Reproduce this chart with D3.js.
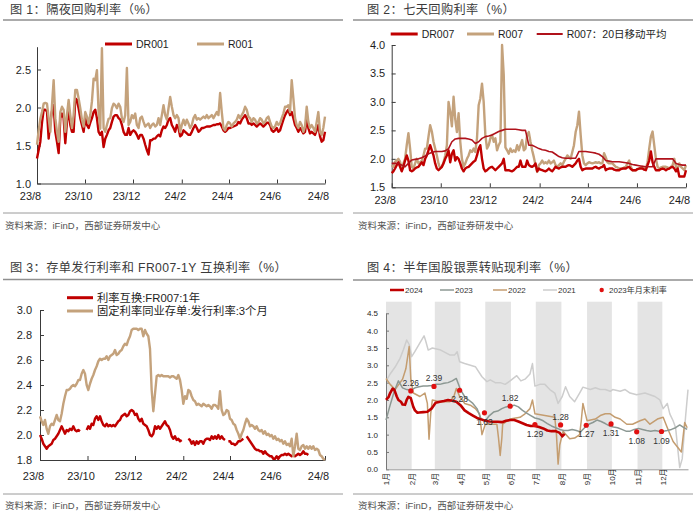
<!DOCTYPE html>
<html><head><meta charset="utf-8">
<script src="https://cdn.jsdelivr.net/npm/d3@7"></script>
<style>body{margin:0;background:#fff}svg{display:block}</style>
</head><body><svg id="c" width="700" height="514"></svg>
<script>
// ---------------- DATA ----------------
const spanStart = "2023-08-01", spanEnd = "2024-08-01";
const xTickDates = ["2023-08-01","2023-10-01","2023-12-01","2024-02-01","2024-04-01","2024-06-01","2024-08-01"];
const xTickLabels = ["23/8","23/10","23/12","24/2","24/4","24/6","24/8"];
const sourceText = "资料来源：iFinD，西部证券研发中心";

// Panel 1 (evenly spaced observations over the span)
const dr001 = [1.33,1.44,1.55,1.80,1.97,1.97,1.95,1.59,1.81,1.95,2.03,1.68,1.55,1.40,1.86,1.92,1.86,1.53,1.81,1.97,1.77,1.68,1.68,2.12,2.10,1.99,1.86,1.77,1.68,1.86,1.77,1.73,1.80,1.86,1.94,1.97,1.86,1.68,1.64,1.68,1.48,1.59,1.64,1.70,1.73,1.81,1.88,1.90,1.90,1.86,1.84,1.77,1.68,1.64,1.64,1.73,1.64,1.68,1.70,1.68,1.64,1.59,1.64,1.64,1.59,1.51,1.44,1.38,1.57,1.57,1.59,1.59,1.62,1.64,1.62,1.70,1.75,1.73,1.77,1.84,1.86,1.77,1.73,1.68,1.77,1.73,1.62,1.64,1.70,1.68,1.66,1.64,1.64,1.68,1.73,1.77,1.73,1.68,1.70,1.73,1.73,1.74,1.75,1.75,1.75,1.76,1.77,1.77,1.78,1.78,1.79,1.75,1.70,1.68,1.70,1.73,1.73,1.74,1.75,1.76,1.77,1.81,1.79,1.84,1.87,1.90,1.86,1.79,1.79,1.77,1.79,1.77,1.75,1.77,1.79,1.77,1.75,1.77,1.80,1.80,1.77,1.70,1.68,1.70,1.73,1.68,1.70,1.77,1.84,1.90,1.94,1.97,1.90,1.94,1.86,1.77,1.73,1.68,1.73,1.70,1.66,1.68,1.86,1.73,1.66,1.68,1.66,1.64,1.70,1.77,1.62,1.55,1.57,1.68];
const r001 = [1.51,1.70,1.85,1.94,2.05,2.06,2.05,1.86,1.68,2.03,2.36,1.86,1.68,1.55,1.94,2.01,1.97,1.68,1.90,2.10,1.90,1.73,1.90,2.23,2.23,2.12,1.99,1.84,1.75,1.94,1.88,1.79,1.90,2.08,2.38,2.36,2.49,1.94,1.72,2.78,1.73,1.68,1.77,1.85,1.86,1.99,2.05,2.03,1.99,2.05,2.01,1.86,1.81,1.90,2.52,1.77,1.81,1.90,1.86,1.92,1.77,1.73,1.86,1.88,1.81,1.75,1.77,1.79,1.73,1.77,1.79,1.75,1.77,1.86,1.77,1.90,2.03,1.90,1.84,1.99,2.14,2.01,1.90,1.86,1.90,1.86,1.68,1.77,1.84,1.77,1.84,1.79,1.73,1.77,1.86,1.90,1.84,1.86,1.84,1.86,1.88,1.86,1.90,1.86,1.88,1.90,1.86,1.90,1.94,1.90,2.19,1.94,1.73,1.70,1.77,1.81,1.79,1.75,1.79,1.81,1.84,1.90,1.86,1.90,1.94,2.01,1.97,1.88,1.86,1.81,1.86,1.84,1.79,1.81,1.86,1.84,1.79,1.81,1.86,1.88,1.81,1.75,1.73,1.75,1.81,1.77,1.79,1.86,1.92,2.01,2.01,2.03,1.94,2.36,2.12,1.86,1.77,1.73,1.81,1.77,1.68,1.75,2.01,1.81,1.73,1.77,1.73,1.68,1.81,1.94,1.68,1.64,1.73,1.88];

// Panel 2
const dr007 = [1.75,1.78,1.83,1.89,1.94,1.86,1.78,1.86,1.97,2.06,1.97,1.8,1.78,1.8,1.83,1.85,1.86,1.9,1.94,1.89,2.0,2.06,2.15,2.24,2.15,2.06,1.92,1.83,1.8,1.83,1.86,1.92,2.0,2.06,2.15,1.94,2.09,2.15,1.97,2.03,2.0,1.92,1.83,1.78,1.83,1.85,1.86,1.89,1.92,1.95,1.97,2.06,2.18,2.24,2.0,1.83,1.78,1.8,1.83,1.85,1.86,1.83,1.8,1.83,1.86,1.89,1.92,2.0,1.8,1.8,1.8,1.79,1.78,1.8,1.83,1.86,1.86,1.97,1.86,1.86,1.86,1.97,1.89,1.87,1.86,1.88,1.92,1.78,1.83,1.81,1.8,1.79,1.78,1.8,1.83,1.8,1.78,1.82,1.86,1.84,1.83,1.85,1.86,1.86,1.86,1.88,1.89,1.88,1.86,1.89,1.92,1.97,2.0,1.86,1.8,1.82,1.83,1.83,1.83,1.83,1.83,1.85,1.86,1.84,1.83,1.85,1.86,1.89,1.8,1.82,1.83,1.83,1.83,1.81,1.8,1.8,1.8,1.82,1.83,1.83,1.83,1.85,1.86,1.82,1.8,1.8,1.8,1.82,1.83,1.83,1.83,1.81,1.8,1.89,1.97,2.13,1.94,1.86,1.8,1.8,1.8,1.82,1.83,1.82,1.8,1.82,1.83,1.85,1.86,1.83,1.78,1.83,1.69,1.69,1.69,1.69,1.8];
const r007 = [1.89,1.86,1.95,1.97,2.0,1.95,1.83,1.92,2.0,2.24,2.45,2.18,1.86,1.83,1.92,2.0,1.92,1.94,1.97,2.06,2.18,2.18,2.39,2.59,2.48,2.3,2.18,2.06,1.92,1.83,1.86,1.94,2.06,2.24,3.0,2.83,2.57,3.09,2.7,2.47,2.8,2.3,2.0,1.86,1.92,2.0,2.06,2.15,2.12,2.18,2.12,2.36,2.94,3.06,3.32,3.0,2.42,2.18,2.24,2.36,2.42,2.3,2.36,2.15,2.24,2.3,4.0,3.47,2.2,2.15,2.09,2.18,2.12,2.15,2.12,2.24,2.15,2.24,2.33,2.15,2.18,2.42,2.47,2.3,2.15,2.03,1.89,1.77,1.89,1.92,1.97,1.92,1.94,1.92,1.97,1.92,1.94,1.97,1.89,1.86,1.89,1.92,1.89,1.95,2.0,2.06,2.03,2.0,2.12,2.24,2.47,2.59,2.83,2.42,2.06,1.92,1.89,1.92,1.94,1.93,1.92,1.93,1.94,1.93,1.94,1.92,1.92,2.1,2.03,1.94,1.92,1.92,1.92,1.89,1.86,1.85,1.83,1.83,1.83,1.85,1.86,1.92,1.97,1.86,1.8,1.8,1.8,1.82,1.83,1.85,1.86,1.85,1.83,1.94,2.18,2.39,2.48,2.24,2.0,1.86,1.83,1.85,1.86,1.86,1.86,1.85,1.83,1.86,1.89,2.0,1.86,1.83,1.92,1.86,1.83,1.8,1.89];
const r007ma20 = [1.92,1.92,1.92,1.89,1.86,1.92,1.98,1.99,2.0,2.02,2.05,2.09,2.11,2.13,2.13,2.13,2.14,2.18,2.3,2.35,2.36,2.36,2.36,2.35,2.33,2.27,2.3,2.36,2.39,2.4,2.42,2.45,2.48,2.5,2.52,2.52,2.52,2.52,2.51,2.5,2.5,2.24,2.24,2.21,2.18,2.16,2.15,2.13,2.12,2.08,2.04,2.02,2.01,2.01,2.01,2.01,2.13,2.13,2.13,2.12,2.11,2.1,2.08,2.04,1.97,1.96,1.95,1.95,1.95,1.94,1.93,1.92,1.9,1.89,1.88,1.87,1.86,1.86,1.86,2.0,2.0,2.0,2.0,2.0,2.0,1.92,1.9,1.89,1.89];

// Panel 3
const fr007Swap1y = [2.00,1.97,1.93,1.91,1.89,1.91,1.92,1.93,1.96,1.97,1.99,2.01,2.04,2.07,2.04,2.01,2.04,2.03,2.05,2.04,2.07,2.04,2.03,2.04,2.03,null,null,null,2.04,2.07,2.05,2.09,2.08,2.13,2.15,2.12,2.15,2.11,2.08,2.07,2.09,2.07,2.08,2.07,2.08,2.07,2.09,2.11,2.12,2.15,2.16,2.17,2.15,2.16,2.19,2.20,2.19,2.16,2.17,2.13,2.11,2.13,2.09,2.08,2.07,2.04,2.00,1.99,2.01,2.07,2.05,2.07,2.05,2.07,2.09,2.11,2.08,2.07,2.04,1.99,1.97,1.99,1.96,1.97,1.95,1.96,null,null,null,1.97,1.96,1.93,1.95,1.92,1.95,1.93,1.95,1.95,1.93,1.96,1.97,1.97,1.96,1.99,1.97,1.99,1.97,2.00,1.97,1.99,1.97,1.96,null,1.95,1.95,1.93,1.93,1.92,1.93,1.95,1.95,1.96,1.97,null,1.99,1.97,1.95,1.93,1.91,1.89,1.88,1.88,1.87,1.87,1.85,1.87,1.85,1.84,1.83,1.83,1.81,1.81,1.83,1.81,1.83,1.84,1.84,1.85,1.84,1.85,1.84,1.83,1.84,1.83,1.84,1.85,1.84,1.85,1.87,1.85,1.85,1.84,null,null,null,null,null,null,null,null,null,null];
const ncd3m = [2.15,2.11,2.08,2.12,2.05,2.01,2.07,2.09,2.08,2.12,2.16,2.12,2.11,2.17,2.25,2.31,2.36,2.36,2.37,2.39,2.40,2.39,2.41,2.44,2.44,2.49,2.52,2.49,2.40,2.36,2.41,2.45,2.48,2.52,2.55,2.59,2.61,2.60,2.61,2.61,2.63,2.60,2.63,2.64,2.65,2.68,2.64,2.65,2.67,2.68,2.71,2.73,2.72,2.76,2.79,2.84,2.85,2.85,2.85,2.84,2.85,2.85,2.79,2.84,2.81,2.79,2.69,2.36,2.19,2.33,2.47,2.48,2.47,2.48,2.47,2.47,2.47,2.47,2.46,2.47,2.47,2.46,2.45,2.48,2.44,2.36,2.25,2.31,2.29,2.36,2.35,2.31,2.28,2.27,2.24,2.25,2.24,2.23,2.25,2.24,2.23,2.24,2.23,2.21,2.24,2.24,2.23,2.21,2.35,2.20,2.16,2.17,2.20,2.19,2.13,2.12,2.09,2.08,2.04,2.01,1.97,2.01,2.04,2.09,2.13,2.11,2.07,2.08,2.07,2.05,2.07,2.04,2.03,2.04,2.01,2.03,2.00,2.01,1.99,2.00,1.97,1.99,1.96,1.97,1.95,1.96,1.93,1.95,1.92,1.93,1.91,1.97,1.83,1.91,2.01,1.89,1.88,1.91,1.92,1.89,1.91,1.89,1.91,1.89,1.91,1.88,1.89,1.88,1.84,1.83,1.81,1.80];

// Panel 4 (day of year, value)
const p4Months = ["1月","2月","3月","4月","5月","6月","7月","8月","9月","10月","11月","12月"];
const p4ShadedMonths = [1,3,5,7,9,11];
const days2024 = [0,3,5,8,10,13,15,18,20,23,25,27,30,33,35,38,40,45,50,55,60,65,70,75,80,85,90,95,100,105,110,115,120,125,130,135,140,145,150,155,160,165,170,175,180,185,190,195,200,205,210,213,216];
const vals2024 = [2.0,2.08,2.2,2.33,2.3,2.1,2.0,1.95,1.87,1.86,2.0,2.09,2.05,1.8,1.7,1.63,1.64,1.65,1.66,1.75,1.92,1.95,1.97,2.0,1.98,1.95,1.85,1.7,1.62,1.55,1.48,1.44,1.4,1.38,1.37,1.37,1.36,1.4,1.42,1.42,1.38,1.33,1.28,1.25,1.25,1.22,1.18,1.12,1.1,1.1,1.05,0.95,1.02];
const days2023 = d3.range(0, 365, 5).concat([364]);
const vals2023 = [1.42,1.85,2.25,2.55,2.35,2.3,2.28,2.35,2.38,2.4,2.4,2.42,2.45,2.45,2.48,2.5,2.55,2.62,2.3,2.1,2.0,1.9,1.75,1.45,1.4,1.55,1.65,1.68,1.75,1.8,1.82,1.85,1.8,1.7,1.62,1.55,1.48,1.45,1.4,1.32,1.25,1.2,1.15,1.12,1.12,1.15,1.12,1.08,1.2,1.3,1.35,1.42,1.38,1.32,1.25,1.22,1.2,1.15,1.1,1.1,1.15,1.18,1.15,1.12,1.1,1.12,1.1,1.1,1.12,1.15,1.2,1.28,1.2,1.15];
const days2022 = [0,5,11,17,20,24,28,30,33,41,47,50,52,54,56,65,77,82,85,89,95,102,108,113,116,120,126,134,136,138,140,141,150,162,168,174,177,180,192,204,206,208,210,214,222,228,234,236,238,241,243,253,259,265,271,277,283,291,298,307,313,319,328,335,340,347,357,361,364];
const vals2022 = [2.62,2.45,2.3,2.5,2.6,2.9,3.54,2.6,2.2,2.1,2.2,1.9,0.87,1.6,2.0,1.95,1.95,2.1,2.33,2.1,1.9,1.85,1.75,1.6,1.0,1.3,1.3,1.3,0.9,0.4,0.9,1.3,1.45,1.5,1.6,1.75,2.0,1.6,1.55,1.5,1.0,0.15,0.7,1.1,0.88,0.9,1.0,1.4,1.9,1.6,1.4,1.45,1.55,1.6,1.6,1.5,1.45,1.3,1.3,1.4,1.45,1.3,1.45,1.5,1.2,0.8,0.5,1.35,1.2];
const days2021 = [1,5,11,17,21,25,28,31,35,41,46,48,51,56,65,77,83,86,89,95,102,108,116,122,126,132,138,144,150,158,163,168,174,177,180,186,192,198,204,208,213,217,222,228,234,238,247,253,259,265,271,274,283,289,295,303,313,319,325,331,335,340,343,347,350,355,358,362,365];
const vals2021 = [2.58,2.75,2.95,3.2,3.45,3.73,3.6,3.25,3.4,3.65,3.85,3.7,3.44,3.5,3.45,3.3,3.3,3.39,3.1,3.05,3.0,2.96,2.67,2.53,2.58,2.5,2.5,2.45,2.55,2.7,2.55,2.6,2.75,3.05,2.4,2.45,2.45,2.3,2.2,1.9,2.1,2.38,2.1,1.95,2.2,2.37,2.3,2.35,2.3,2.3,2.25,2.3,2.25,2.3,2.2,2.15,2.2,2.15,2.1,2.0,1.75,1.9,1.6,1.4,1.2,0.05,0.3,1.5,2.3];
const monthEndMonths = [1,2,3,4,5,6,7,8,9,10,11];
const monthEndRates2023 = [2.26,2.39,2.28,1.63,1.82,1.29,1.28,1.27,1.31,1.08,1.09];
const monthEndLabelSide = ["up","up","down","down","up","down","up","down","down","down","down"];

// ---------------- DRAW ----------------
const FONT = '"Liberation Sans", Arial, "Noto Sans CJK SC", sans-serif';
const RED = "#c00000", TAN = "#c4a27c", DARKRED = "#b0121b";
const svg = d3.select("#c").attr("font-family", FONT);
const parse = d3.timeParse("%Y-%m-%d");

function frame(o) {
  svg.append("text").attr("x", o.tx).attr("y", o.ty).attr("font-size", 12.2).attr("fill", "#3a3a3a")
    .attr("letter-spacing", 0.4).text(o.title);
  svg.append("line").attr("x1", o.x0).attr("x2", o.x1).attr("y1", o.rTop).attr("y2", o.rTop)
    .attr("stroke", "#8f8f8f").attr("stroke-width", 1.6);
  svg.append("line").attr("x1", o.x0).attr("x2", o.x1).attr("y1", o.rBot).attr("y2", o.rBot)
    .attr("stroke", "#9a9a9a").attr("stroke-width", 1);
  svg.append("text").attr("x", o.sx).attr("y", o.sy).attr("font-size", 9.5).attr("fill", "#555").text(sourceText);
}

function styleAxis(sel, size) {
  sel.attr("font-family", FONT).attr("font-size", size);
  sel.select(".domain").attr("stroke", "#3a3a3a");
  sel.selectAll(".tick line").attr("stroke", "#3a3a3a");
  sel.selectAll(".tick text").attr("fill", "#1e1e1e");
}

function timePanel(o) {
  const x = d3.scaleTime().domain([parse(spanStart), parse(spanEnd)]).range([o.x0, o.x1]);
  const y = d3.scaleLinear().domain(o.yDomain).range([o.yBot, o.yTop]);
  const g = svg.append("g");
  const xa = g.append("g").attr("transform", `translate(0,${o.yBot})`)
    .call(d3.axisBottom(x).tickValues(xTickDates.map(parse)).tickFormat((d, i) => xTickLabels[i])
      .tickSizeInner(-4).tickSizeOuter(0).tickPadding(o.xPad));
  styleAxis(xa, 11);
  xa.selectAll(".tick text").attr("dx", -7);
  const ya = g.append("g").attr("transform", `translate(${o.x0},0)`)
    .call(d3.axisLeft(y).tickValues(o.yTicks).tickFormat(d3.format(".1f"))
      .tickSizeInner(-4).tickSizeOuter(0).tickPadding(o.yPad));
  styleAxis(ya, 11);
  const t0 = +parse(spanStart), t1 = +parse(spanEnd);
  o.series.forEach(s => {
    const n = s.values.length;
    const pts = s.values.map((v, i) => [new Date(t0 + (t1 - t0) * i / (n - 1)), v]);
    const line = d3.line().defined(d => d[1] != null).x(d => x(d[0])).y(d => y(d[1]));
    g.append("path").datum(pts).attr("d", line).attr("fill", "none").attr("stroke", s.color)
      .attr("stroke-width", s.width).attr("stroke-linejoin", "round");
  });
  o.legend.forEach(l => {
    g.append("line").attr("x1", l.x).attr("x2", l.x + l.len).attr("y1", l.y).attr("y2", l.y)
      .attr("stroke", l.color).attr("stroke-width", l.w);
    g.append("text").attr("x", l.x + l.len + 4).attr("y", l.y + 4).attr("font-size", l.fs || 10.5)
      .attr("fill", "#1e1e1e").text(l.label);
  });
}

// Panel 1
frame({title: "图 1：隔夜回购利率（%）", tx: 10, ty: 14, x0: 3, x1: 343, rTop: 20, rBot: 213, sx: 5, sy: 229});
timePanel({x0: 37, x1: 325, yTop: 46.7, yBot: 183.5, yDomain: [1.0, 2.8], yTicks: [1.0, 1.5, 2.0, 2.5],
  xPad: 9, yPad: 6,
  series: [{values: dr001, color: RED, width: 2.4}, {values: r001, color: TAN, width: 2.4}],
  legend: [{x: 105, y: 44, len: 27, color: RED, w: 3, label: "DR001"},
           {x: 197, y: 44, len: 27, color: TAN, w: 3, label: "R001"}]});

// Panel 2
frame({title: "图 2：七天回购利率（%）", tx: 367, ty: 14, x0: 353, x1: 693, rTop: 20, rBot: 213, sx: 358, sy: 229});
timePanel({x0: 391.7, x1: 686, yTop: 45, yBot: 187.3, yDomain: [1.5, 4.0], yTicks: [1.5, 2.0, 2.5, 3.0, 3.5, 4.0],
  xPad: 9, yPad: 6.5,
  series: [{values: r007, color: TAN, width: 2.4}, {values: dr007, color: RED, width: 2.4},
           {values: r007ma20, color: DARKRED, width: 1.6}],
  legend: [{x: 390.7, y: 34, len: 27, color: RED, w: 3, label: "DR007"},
           {x: 467, y: 34, len: 27, color: TAN, w: 3, label: "R007"},
           {x: 536.7, y: 34, len: 26, color: DARKRED, w: 2, label: "R007：20日移动平均"}]});

// Panel 3
frame({title: "图 3：存单发行利率和 FR007-1Y 互换利率（%）", tx: 10, ty: 272, x0: 3, x1: 343, rTop: 279.5, rBot: 494, sx: 5, sy: 509});
timePanel({x0: 40, x1: 325, yTop: 310, yBot: 460, yDomain: [1.8, 3.0], yTicks: [1.8, 2.0, 2.2, 2.4, 2.6, 2.8, 3.0],
  xPad: 12, yPad: 8,
  series: [{values: fr007Swap1y, color: RED, width: 2.4}, {values: ncd3m, color: TAN, width: 2.4}],
  legend: [{x: 67, y: 297.7, len: 26, color: RED, w: 3, label: "利率互换:FR007:1年", fs: 11.3},
           {x: 67, y: 311, len: 26, color: TAN, w: 3, label: "固定利率同业存单:发行利率:3个月", fs: 11.3}]});

// Panel 4
frame({title: "图 4：半年国股银票转贴现利率（%）", tx: 367, ty: 272, x0: 353, x1: 693, rTop: 280, rBot: 494, sx: 358, sy: 509});
(function () {
  const yearStart = new Date(2023, 0, 1);
  const doy = d => d3.timeDay.count(yearStart, d);
  const x = d3.scaleLinear().domain([0, 365]).range([386, 688]);
  const y = d3.scaleLinear().domain([0, 4.5]).range([469.3, 313.3]);
  const g = svg.append("g");
  // shaded months
  p4ShadedMonths.forEach(m => {
    const a = doy(new Date(2023, m - 1, 1)), b = doy(new Date(2023, m, 1));
    g.append("rect").attr("x", x(a)).attr("width", x(b) - x(a)).attr("y", 301.7).attr("height", y(0) - 301.7)
      .attr("fill", "#e4e4e4");
  });
  // axes
  const ya = g.append("g").attr("transform", "translate(386,0)")
    .call(d3.axisLeft(y).tickValues(d3.range(0, 4.51, 0.5)).tickFormat(d3.format(".1f"))
      .tickSizeInner(-3).tickSizeOuter(0).tickPadding(8));
  styleAxis(ya, 8);
  ya.select(".domain").attr("stroke", "#777");
  ya.selectAll(".tick line").attr("stroke", "#777");
  const monthStarts = p4Months.map((m, i) => doy(new Date(2023, i, 1)));
  const xa = g.append("g").attr("transform", `translate(0,${y(0)})`)
    .call(d3.axisBottom(x).tickValues(monthStarts).tickFormat((d, i) => p4Months[i]).tickSize(0).tickPadding(0));
  styleAxis(xa, 8);
  xa.select(".domain").attr("stroke", "#999");
  xa.selectAll(".tick text").attr("transform", "translate(0,16) rotate(-90)").attr("text-anchor", "start")
    .attr("y", 0).attr("x", 0).attr("dy", "0.35em");
  // series
  const line = d3.line().x(d => x(d[0])).y(d => y(d[1]));
  const series = [
    {d: days2021, v: vals2021, c: "#cdcdcd", w: 1.5, name: "2021"},
    {d: days2022, v: vals2022, c: "#c49d70", w: 1.5, name: "2022"},
    {d: days2023, v: vals2023, c: "#8c9893", w: 1.5, name: "2023"},
    {d: days2024, v: vals2024, c: RED, w: 2.6, name: "2024"}
  ];
  series.forEach(s => {
    g.append("path").datum(s.d.map((dd, i) => [dd, s.v[i]])).attr("d", line).attr("fill", "none")
      .attr("stroke", s.c).attr("stroke-width", s.w).attr("stroke-linejoin", "round");
  });
  // month-end dots
  monthEndMonths.forEach((m, i) => {
    const dx = x(doy(new Date(2023, m, 0))), dy = y(monthEndRates2023[i]);
    g.append("circle").attr("cx", dx).attr("cy", dy).attr("r", 2.6).attr("fill", "#e01010");
    g.append("text").attr("x", dx).attr("y", monthEndLabelSide[i] === "up" ? dy - 5 : dy + 12)
      .attr("text-anchor", "middle").attr("font-size", 8.5).attr("fill", "#333")
      .text(d3.format(".2f")(monthEndRates2023[i]));
  });
  // legend
  const leg = [series[3], series[2], series[1], series[0]];
  const lx = [390, 440, 493, 543];
  leg.forEach((s, i) => {
    g.append("line").attr("x1", lx[i]).attr("x2", lx[i] + 14).attr("y1", 290).attr("y2", 290)
      .attr("stroke", s.c).attr("stroke-width", s.name === "2024" ? 2.5 : 1.5);
    g.append("text").attr("x", lx[i] + 15).attr("y", 293).attr("font-size", 8).attr("fill", "#333").text(s.name);
  });
  g.append("circle").attr("cx", 601.7).attr("cy", 290).attr("r", 2.2).attr("fill", "#e01010");
  g.append("text").attr("x", 609).attr("y", 293).attr("font-size", 8).attr("fill", "#333").text("2023年月末利率");
})();
</script></body></html>
